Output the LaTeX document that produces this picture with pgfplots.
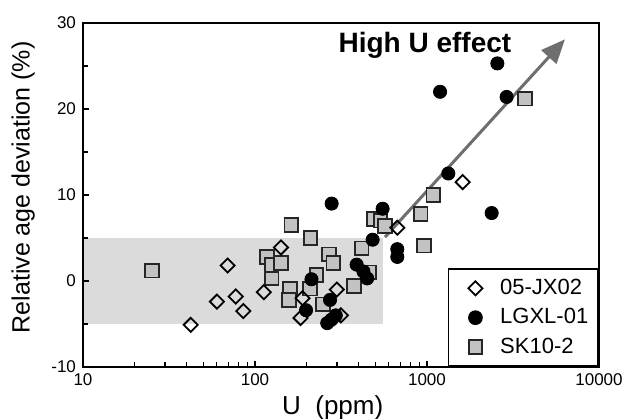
\documentclass[border=0pt]{standalone}
\usepackage{fontspec}
\setmainfont{Liberation Sans}
\usepackage{pgfplots}
\pgfplotsset{compat=1.18}
\usetikzlibrary{arrows.meta,calc}

\definecolor{shade}{gray}{0.86}
\definecolor{sqfill}{gray}{0.76}
\definecolor{arrowgray}{gray}{0.43}

% marker styles for the three samples
\pgfplotsset{
  jx/.style={only marks, mark=square, mark size=2.5pt,
    mark options={rotate=45, fill=white, draw=black, line width=0.9pt}},
  lg/.style={only marks, mark=*, mark size=3.3pt,
    mark options={fill=black, draw=black}},
  sk/.style={only marks, mark=square*, mark size=3.4pt,
    mark options={fill=sqfill, draw=black!85, line width=0.9pt}},
}

\begin{document}
\begin{tikzpicture}
\begin{axis}[
    scale only axis,
    width=258pt,
    height=172pt,
    xmode=log,
    xmin=10, xmax=10000,
    ymin=-10, ymax=30,
    xtick={10,100,1000,10000},
    xticklabels={10,100,1000,10000},
    minor xtick={20,30,...,90,200,300,...,900,2000,3000,...,9000},
    ytick={-10,0,10,20,30},
    minor ytick={-5,5,15,25},
    tick align=inside,
    xtick pos=bottom,
    ytick pos=left,
    major tick length=3pt,
    minor tick length=2.5pt,
    every tick/.style={black, line width=0.6pt},
    axis line style={line width=1pt},
    axis on top,
    ticklabel style={font=\fontsize{8.5}{10}\selectfont},
    /pgf/number format/assume math mode=true,
    xlabel={U\ \ (ppm)},
    ylabel={Relative age deviation (\%)},
    xlabel style={at={(axis description cs:0.484,-0.137)}, anchor=base,
      font=\fontsize{13}{15}\selectfont},
    ylabel style={at={(axis description cs:-0.116,0.522)}, anchor=center,
      font=\fontsize{12.5}{15}\selectfont},
    legend style={at={(1,0)}, anchor=south east, draw=black,
      line width=0.75pt, fill=white,
      font=\fontsize{11}{13}\selectfont,
      inner xsep=3pt, inner ysep=3pt, row sep=1.5pt},
    legend cell align=left,
    legend image code/.code={
      \path (0pt,0pt) (20pt,0pt);
      \draw[#1] plot coordinates {(10pt,0pt)};
    },
]
\coordinate (sw) at (rel axis cs:0,0);
\coordinate (ne) at (rel axis cs:1,1);

% +/-5 % band
\addplot[fill=shade, draw=none, forget plot]
  coordinates {(10,-5) (555,-5) (555,5) (10,5)} -- cycle;

% high U trend arrow
\addplot[arrowgray, line width=1.5pt, forget plot,
  -{Triangle[length=12pt,width=10pt]}]
  coordinates {(570,5.1) (6340,28.1)};

\node[font=\bfseries\fontsize{14}{16}\selectfont, anchor=base]
  at (axis cs:973,26.6) {High U effect};

\addlegendimage{jx}\addlegendentry{05-JX02}
\addlegendimage{lg}\addlegendentry{LGXL-01}
\addlegendimage{sk}\addlegendentry{SK10-2}

% SK10-2
\addplot[sk, forget plot] coordinates {
  (25.2,1.2) (117.5,2.8) (125,1.9) (142,2.1) (125,0.3) (162.6,6.5)
  (159.6,-0.9) (157.8,-2.2) (210,5.0) (270,3.1) (285,2.1) (228,0.7)
  (209,-0.9) (249,-2.7) (377,-0.6) (462,1.0) (417,3.8) (488,7.2)
  (537,7.0) (570,6.4) (961,4.1) (918,7.8) (1089,10.0) (3715,21.2)
};

% 05-JX02
\addplot[jx, forget plot] coordinates {
  (42.3,-5.1) (69.3,1.8) (60.1,-2.4) (77.3,-1.8) (85.5,-3.5)
  (112.5,-1.3) (141.6,3.9) (189,-2.0) (184,-4.3) (299,-1.0)
  (316,-4.0) (672,6.2) (1612,11.5)
};

% LGXL-01
\addplot[lg, forget plot] coordinates {
  (279,9.0) (213,0.2) (198,-3.4) (273,-2.2) (263,-4.9) (278,-4.5)
  (295,-4.0) (390,1.9) (427,1.1) (449,0.3) (483,4.8) (552,8.4)
  (672,3.7) (672,2.8) (1330,12.5) (2565,25.3) (1191,22.0)
  (2904,21.4) (2377,7.9)
};
\end{axis}
\pgfresetboundingbox
\path ($(sw)+(-41.5pt,-26pt)$) rectangle ($(ne)+(11.5pt,11.5pt)$);
\end{tikzpicture}
\end{document}
